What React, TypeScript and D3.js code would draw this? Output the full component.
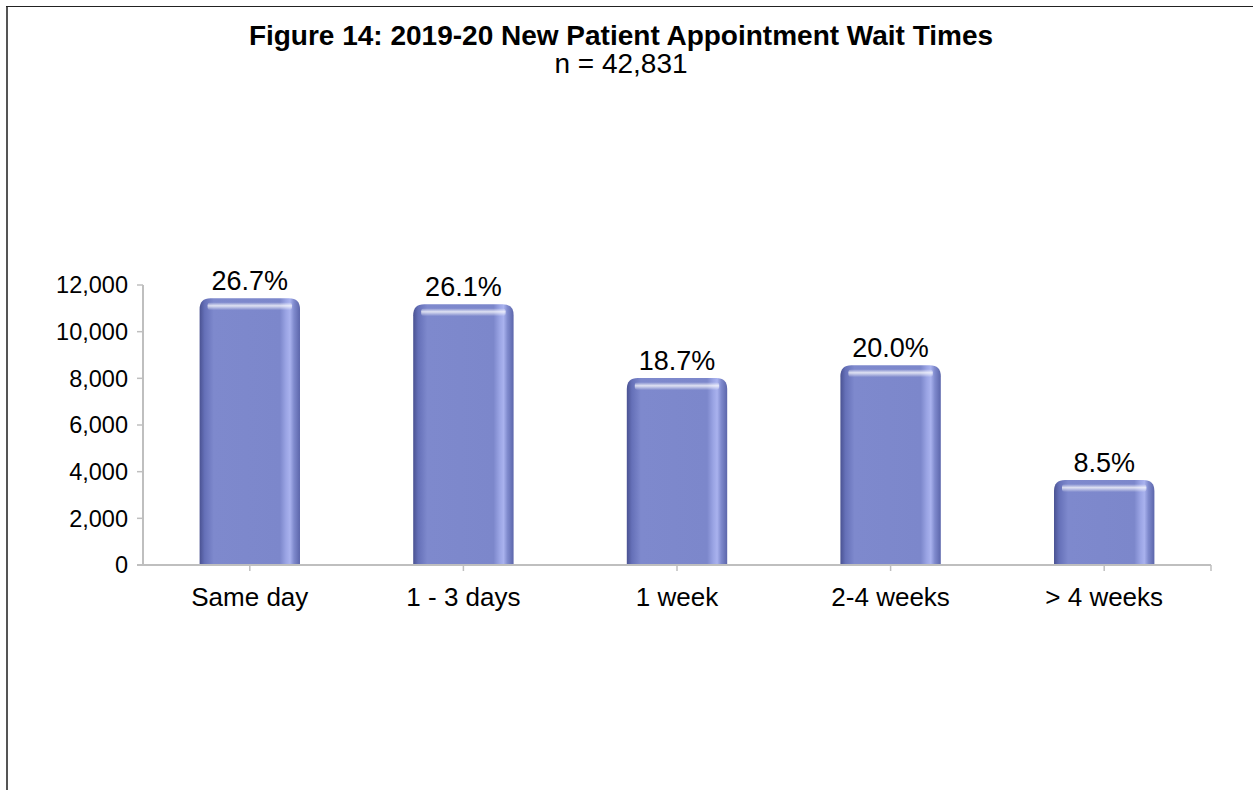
import React from "react";
import * as d3 from "d3";

const categories = ["Same day", "1 - 3 days", "1 week", "2-4 weeks", "> 4 weeks"];
const counts = [11436, 11179, 8009, 8566, 3641];
const percentLabels = ["26.7%", "26.1%", "18.7%", "20.0%", "8.5%"];
const yTicks = [0, 2000, 4000, 6000, 8000, 10000, 12000];
const titleText = "Figure 14: 2019-20 New Patient Appointment Wait Times";
const subtitleText = "n = 42,831";

const W = 1253;
const H = 790;
const FONT = "'Liberation Sans', Arial, sans-serif";

export default function App() {
  const x0 = 143;
  const x1 = 1211;
  const yBase = 565;
  const yTop = 285;
  const x = d3.scaleBand<string>().domain(categories).range([x0, x1]).paddingInner(0.53).paddingOuter(0.265);
  const band = d3.scaleBand<string>().domain(categories).range([x0, x1]);
  const y = d3.scaleLinear().domain([0, 12000]).range([yBase, yTop]);
  const fmt = d3.format(",");
  const bw = x.bandwidth();
  const r = 11;

  const barPath = (bx: number, by: number, w: number, h: number) => {
    const rr = Math.min(r, h);
    return `M${bx},${by + h} L${bx},${by + rr} Q${bx},${by} ${bx + rr},${by} L${bx + w - rr},${by} Q${bx + w},${by} ${bx + w},${by + rr} L${bx + w},${by + h} Z`;
  };

  return (
    <svg width={W} height={H} style={{ position: "absolute", left: 0, top: 0, background: "#fff" }} fontFamily={FONT}>
      <defs>
        <linearGradient id="barGrad" x1="0" x2="1" y1="0" y2="0">
          <stop offset="0%" stopColor="#4a5292" />
          <stop offset="5%" stopColor="#6570b8" />
          <stop offset="14%" stopColor="#7e89cd" />
          <stop offset="80%" stopColor="#7c87cb" />
          <stop offset="86%" stopColor="#9aa4e4" />
          <stop offset="90%" stopColor="#a9b2ee" />
          <stop offset="94%" stopColor="#7f8acd" />
          <stop offset="100%" stopColor="#5c66ab" />
        </linearGradient>
        <linearGradient id="topGrad" x1="0" x2="0" y1="0" y2="1">
          <stop offset="0%" stopColor="#ffffff" stopOpacity="0" />
          <stop offset="45%" stopColor="#ffffff" stopOpacity="0.75" />
          <stop offset="100%" stopColor="#ffffff" stopOpacity="0" />
        </linearGradient>
      </defs>

      {/* frame */}
      <line x1={7} x2={7} y1={6} y2={H} stroke="#555" strokeWidth={2} />
      <line x1={6} x2={W} y1={6.5} y2={6.5} stroke="#222" strokeWidth={1} />

      {/* title */}
      <text x={621} y={45} textAnchor="middle" fontSize={28} fontWeight="bold" fill="#000">{titleText}</text>
      <text x={621} y={73} textAnchor="middle" fontSize={28} fill="#000">{subtitleText}</text>

      {/* bars */}
      {categories.map((c, i) => {
        const bx = x(c)!;
        const by = y(counts[i]);
        const h = yBase - by;
        return (
          <g key={c}>
            <path d={barPath(bx, by, bw, h)} fill="url(#barGrad)" />
            <rect x={bx + 8} y={by + 4} width={bw - 16} height={8} rx={3} fill="url(#topGrad)" />
            <text x={bx + bw / 2} y={by - 8} textAnchor="middle" fontSize={27} fill="#000">{percentLabels[i]}</text>
          </g>
        );
      })}

      {/* y axis */}
      <line x1={x0} x2={x0} y1={yTop} y2={yBase} stroke="#bfbfbf" strokeWidth={2} />
      {yTicks.map((t) => (
        <g key={t}>
          <line x1={x0 - 6} x2={x0} y1={y(t)} y2={y(t)} stroke="#bfbfbf" strokeWidth={1.5} />
          <text x={x0 - 15} y={y(t)} dy="0.35em" textAnchor="end" fontSize={23.5} fill="#000">{fmt(t)}</text>
        </g>
      ))}

      {/* x axis */}
      <line x1={x0 - 6} x2={x1} y1={yBase} y2={yBase} stroke="#bfbfbf" strokeWidth={2} />
      {categories.map((c) => {
        const cx = band(c)! + band.bandwidth() / 2;
        return (
          <g key={c}>
            <line x1={cx} x2={cx} y1={yBase} y2={yBase + 6} stroke="#bfbfbf" strokeWidth={1.5} />
            <text x={cx} y={606} textAnchor="middle" fontSize={26} fill="#000">{c}</text>
          </g>
        );
      })}
      <line x1={x1} x2={x1} y1={yBase} y2={yBase + 6} stroke="#bfbfbf" strokeWidth={1.5} />
    </svg>
  );
}
